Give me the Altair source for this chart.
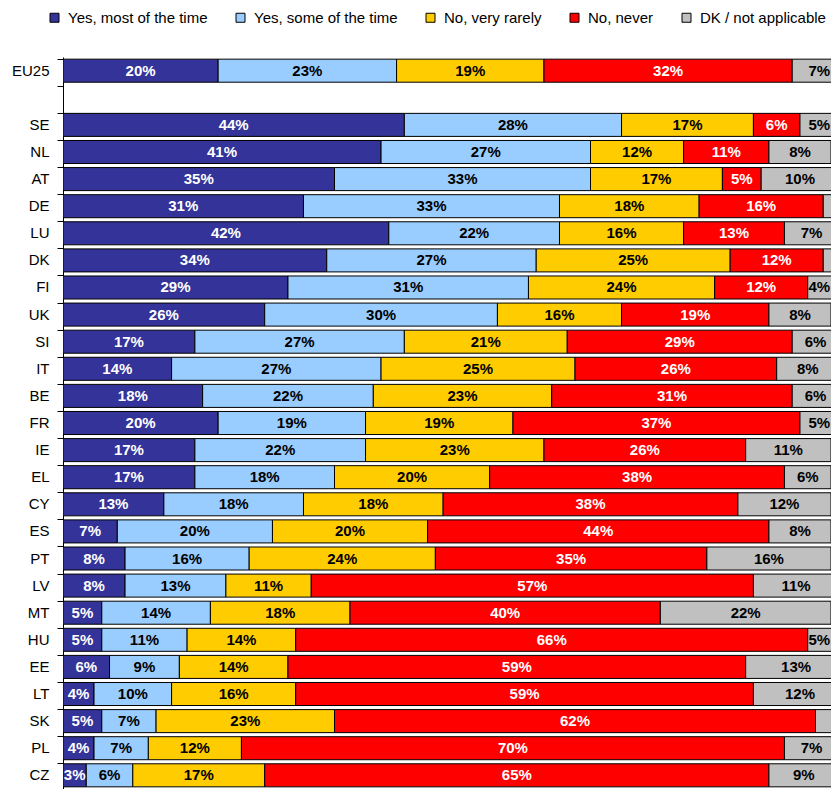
import altair as alt
import pandas as pd

countries = ["EU25", " ", "SE", "NL", "AT", "DE", "LU", "DK", "FI", "UK", "SI", "IT",
             "BE", "FR", "IE", "EL", "CY", "ES", "PT", "LV", "MT", "HU", "EE", "LT",
             "SK", "PL", "CZ"]
categories = ["Yes, most of the time", "Yes, some of the time", "No, very rarely",
              "No, never", "DK / not applicable"]
colors = ["#333399", "#99CCFF", "#FFCC00", "#FF0000", "#C0C0C0"]

rows = ["EU25", "SE", "NL", "AT", "DE", "LU", "DK", "FI", "UK", "SI", "IT",
        "BE", "FR", "IE", "EL", "CY", "ES", "PT", "LV", "MT", "HU", "EE", "LT",
        "SK", "PL", "CZ"]
most = [20, 44, 41, 35, 31, 42, 34, 29, 26, 17, 14, 18, 20, 17, 17, 13, 7, 8, 8, 5, 5, 6, 4, 5, 4, 3]
some = [23, 28, 27, 33, 33, 22, 27, 31, 30, 27, 27, 22, 19, 22, 18, 18, 20, 16, 13, 14, 11, 9, 10, 7, 7, 6]
rarely = [19, 17, 12, 17, 18, 16, 25, 24, 16, 21, 25, 23, 19, 23, 20, 18, 20, 24, 11, 18, 14, 14, 16, 23, 12, 17]
never = [32, 6, 11, 5, 16, 13, 12, 12, 19, 29, 26, 31, 37, 26, 38, 38, 44, 35, 57, 40, 66, 59, 59, 62, 70, 65]
dk = [7, 5, 8, 10, 2, 7, 2, 4, 8, 6, 8, 6, 5, 11, 6, 12, 8, 16, 11, 22, 5, 13, 12, 3, 7, 9]
unlabelled = [("DE", 4), ("DK", 4), ("SK", 4)]

records = []
series = [most, some, rarely, never, dk]
for i, c in enumerate(rows):
    for j, cat in enumerate(categories):
        v = series[j][i]
        lab = "" if (c, j) in unlabelled else f"{v}%"
        records.append({"country": c, "cat": cat, "order": j, "value": v, "label": lab})
df = pd.DataFrame(records)

base = alt.Chart(df).transform_stack(
    stack="value", groupby=["country"], sort=[alt.SortField("order")],
    as_=["x0", "x1"]
).transform_calculate(
    mid="min((datum.x0 + datum.x1) / 2, 97.5)"
)

yenc = alt.Y("country:N",
             scale=alt.Scale(domain=countries, paddingInner=0.15, paddingOuter=0.08),
             axis=alt.Axis(title=None, bandPosition=0, domainColor="black", domainWidth=1,
                           tickColor="black", tickSize=6, labelFontSize=15,
                           labelFont="Liberation Sans", labelColor="black",
                           labelPadding=8, grid=False))
# the reference plot runs slightly past the right edge of the picture
xscale = alt.Scale(domain=[0, 99.0], nice=False, zero=True)

bars = base.mark_bar(stroke="black", strokeWidth=1, clip=True).encode(
    x=alt.X("x0:Q", scale=xscale, axis=None),
    x2="x1:Q",
    y=yenc,
    color=alt.Color("cat:N", scale=alt.Scale(domain=categories, range=colors),
                    legend=alt.Legend(title=None, orient="none", direction="horizontal",
                                      legendX=-16, legendY=-47, symbolType="square",
                                      symbolSize=81, symbolStrokeColor="black",
                                      symbolStrokeWidth=1, labelFont="Liberation Sans",
                                      labelFontSize=15, labelColor="black",
                                      labelOffset=6, columnPadding=25)),
)

text = base.mark_text(font="Liberation Sans", fontSize=15, fontWeight="bold",
                      align="center", baseline="middle").encode(
    x=alt.X("mid:Q", scale=xscale, axis=None),
    y=yenc,
    text="label:N",
    fill=alt.condition("datum.order == 0 || datum.order == 3",
                       alt.value("white"), alt.value("black")),
)

chart = alt.layer(bars, text).properties(
    width=768, height=732,
    autosize=alt.AutoSizeParams(type="none"),
    padding={"left": 55, "top": 49, "right": 0, "bottom": 0},
).configure_view(stroke=None)

chart.save("out.html", embed_options={"renderer": "svg", "actions": False})
